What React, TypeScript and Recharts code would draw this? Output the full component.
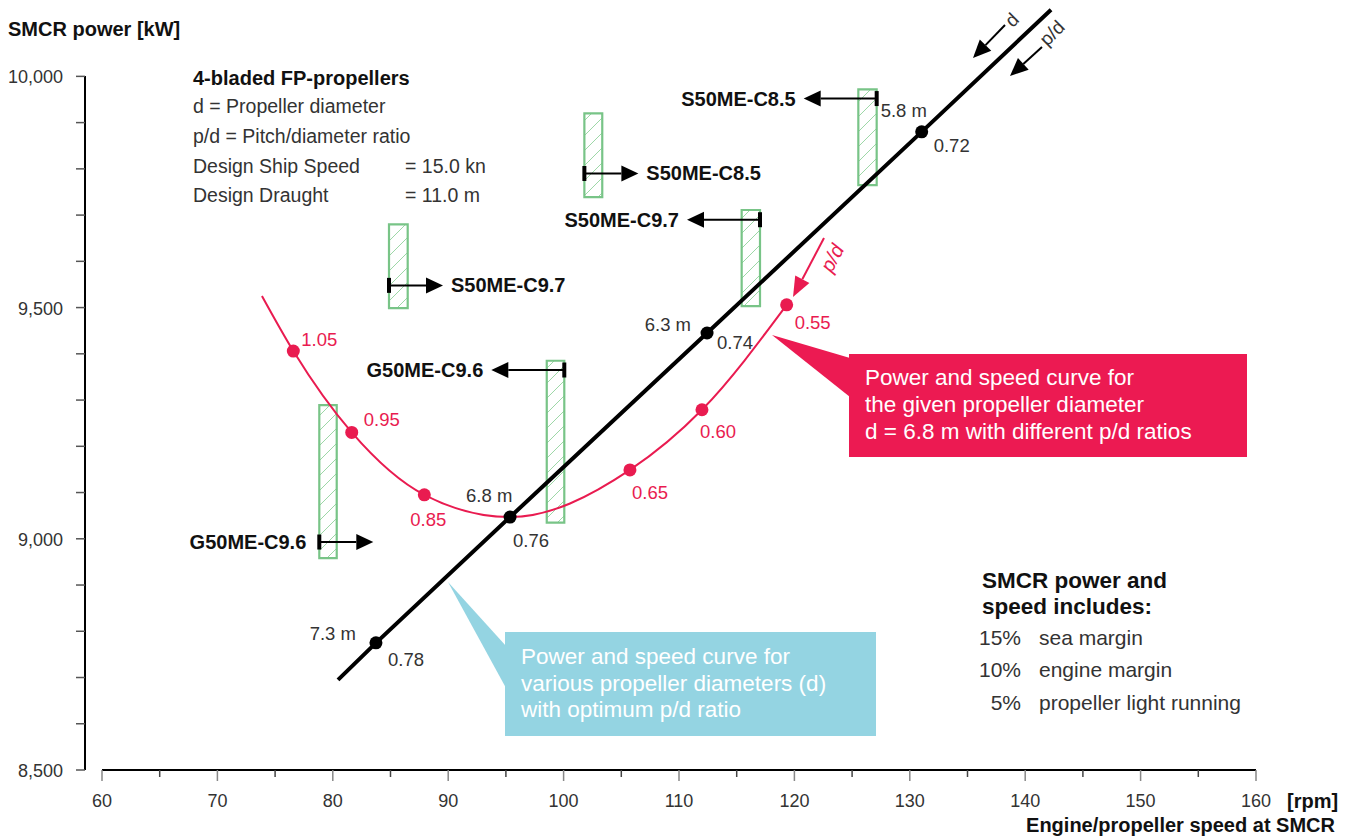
import { ComposedChart, Line, Scatter, XAxis, YAxis, ReferenceArea, ReferenceDot } from "recharts";

const FONT = "'Liberation Sans', Arial, sans-serif";
const RED = "#e91b50";
const GREEN = "#78c487";

const X_TICKS = [60, 65, 70, 75, 80, 85, 90, 95, 100, 105, 110, 115, 120, 125, 130, 135, 140, 145, 150, 155, 160];
const Y_TICKS = [8500, 8600, 8700, 8800, 8900, 9000, 9100, 9200, 9300, 9400, 9500, 9600, 9700, 9800, 9900, 10000];

// curve for various propeller diameters with optimum p/d
const OPT_SPEED = [80.45, 83.74, 95.36, 112.43, 131.03, 142.24];
const OPT_POWER = [8695, 8775, 9047, 9445, 9880, 10144];

const DIAM_SPEED = [83.74, 95.36, 112.43, 131.03];
const DIAM_POWER = [8775, 9047, 9445, 9880];
const DIAM_LABELS = ["7.3 m", "6.8 m", "6.3 m", "5.8 m"];
const DIAM_PD = ["0.78", "0.76", "0.74", "0.72"];

// curve for d = 6.8 m with different p/d
const PD_CURVE_SPEED = [73.86, 76.58, 81.64, 87.93, 95.36, 105.75, 111.99, 119.33];
const PD_CURVE_POWER = [9525, 9406, 9230, 9095, 9047, 9149, 9279, 9506];

const PD_SPEED = [76.58, 81.64, 87.93, 105.75, 111.99, 119.33];
const PD_POWER = [9406, 9230, 9095, 9149, 9279, 9506];
const PD_LABELS = ["1.05", "0.95", "0.85", "0.65", "0.60", "0.55"];

// engine layout areas
const ENGINE_NAMES = ["S50ME-C8.5", "S50ME-C8.5", "S50ME-C9.7", "S50ME-C9.7", "G50ME-C9.6", "G50ME-C9.6"];
const ENGINE_SPEED_MIN = [125.54, 101.8, 115.43, 84.87, 98.54, 78.83];
const ENGINE_SPEED_MAX = [127.13, 103.35, 117.02, 86.49, 100.06, 80.34];
const ENGINE_POWER_MIN = [9765, 9739, 9503, 9499, 9035, 8958];
const ENGINE_POWER_MAX = [9972, 9920, 9711, 9680, 9385, 9289];
const ENGINE_ARROW_POWER = [9952, 9790, 9690, 9548, 9365, 8993];
const ENGINE_ARROW_SIDE = ["left", "right", "left", "right", "left", "right"];

// label placement (px offsets from the dot)
const ENGINE_LABEL_AT_BAR = [false, false, false, false, false, true];
const DIAM_NAME_POS = [
  { dx: -20, dy: -9, anchor: "end" },
  { dx: -44, dy: -22, anchor: "start" },
  { dx: -16, dy: -9, anchor: "end" },
  { dx: -41, dy: -21, anchor: "start" },
];
const DIAM_PD_POS = [
  { dx: 12, dy: 17 },
  { dx: 3, dy: 23 },
  { dx: 10, dy: 9 },
  { dx: 12, dy: 14 },
];
const PD_POS = [
  { dx: 8, dy: -12 },
  { dx: 12, dy: -13 },
  { dx: -14, dy: 25 },
  { dx: 2, dy: 23 },
  { dx: -2, dy: 22 },
  { dx: 8, dy: 18 },
];

const optimumLine = OPT_SPEED.map((rpm, i) => ({ rpm, kw: OPT_POWER[i] }));
const pdCurve = PD_CURVE_SPEED.map((rpm, i) => ({ rpm, kw: PD_CURVE_POWER[i] }));
const diamPoints = DIAM_SPEED.map((rpm, i) => ({ rpm, kw: DIAM_POWER[i], i }));
const pdPoints = PD_SPEED.map((rpm, i) => ({ rpm, kw: PD_POWER[i], i }));

const XTick = (props: any) => {
  const { x, y, payload } = props;
  const v = payload.value;
  const major = v % 10 === 0;
  return (
    <g>
      <line x1={x} y1={y} x2={x} y2={y + (major ? 11 : 7)} stroke={major ? "#888" : "#444"} strokeWidth={1.5} />
      {major && (
        <text x={x} y={y + 31} textAnchor="middle" dominantBaseline="central" fontSize={18} fill="#333" fontFamily={FONT}>
          {v}
        </text>
      )}
    </g>
  );
};

const YTick = (props: any) => {
  const { x, y, payload } = props;
  const v = payload.value;
  return (
    <g>
      <line x1={x - 9} y1={y} x2={x} y2={y} stroke="#555" strokeWidth={1.5} />
      {v % 500 === 0 && (
        <text x={x - 22} y={y + 1} textAnchor="end" dominantBaseline="central" fontSize={18} fill="#333" fontFamily={FONT}>
          {v.toLocaleString("en-US")}
        </text>
      )}
    </g>
  );
};

const BlackDot = (props: any) => {
  const { cx, cy, payload } = props;
  const n = DIAM_NAME_POS[payload.i];
  const p = DIAM_PD_POS[payload.i];
  return (
    <g fontFamily={FONT} fontSize={18.5} fill="#333">
      <circle cx={cx} cy={cy} r={6.5} fill="#000" />
      <text x={cx + n.dx} y={cy + n.dy} textAnchor={n.anchor} dominantBaseline="central">
        {DIAM_LABELS[payload.i]}
      </text>
      <text x={cx + p.dx} y={cy + p.dy} dominantBaseline="central">
        {DIAM_PD[payload.i]}
      </text>
    </g>
  );
};

const RedDot = (props: any) => {
  const { cx, cy, payload } = props;
  const p = PD_POS[payload.i];
  return (
    <g>
      <circle cx={cx} cy={cy} r={6.5} fill={RED} />
      <text x={cx + p.dx} y={cy + p.dy} dominantBaseline="central" fontFamily={FONT} fontSize={18.5} fill={RED}>
        {PD_LABELS[payload.i]}
      </text>
    </g>
  );
};

const EngineMarker = (props: any) => {
  const { cx, cy, index } = props;
  const left = ENGINE_ARROW_SIDE[index] === "left";
  const dir = left ? -1 : 1;
  const tip = cx + dir * (left ? 73 : 54);
  const base = tip - dir * 17;
  const atBar = ENGINE_LABEL_AT_BAR[index];
  // label normally sits past the arrow tip; for one area it sits on the other side of the bar
  const lx = atBar ? cx - 13 : tip + dir * 8;
  const anchor = atBar ? "end" : left ? "end" : "start";
  return (
    <g>
      <line x1={cx} y1={cy - 7.5} x2={cx} y2={cy + 7.5} stroke="#000" strokeWidth={4} />
      <line x1={cx} y1={cy} x2={base} y2={cy} stroke="#000" strokeWidth={2} />
      <polygon points={`${tip},${cy} ${base},${cy - 8} ${base},${cy + 8}`} fill="#000" />
      <text
        x={lx}
        y={cy}
        textAnchor={anchor}
        dominantBaseline="central"
        fontFamily={FONT}
        fontWeight="bold"
        fontSize={20}
        fill="#111"
      >
        {ENGINE_NAMES[index]}
      </text>
    </g>
  );
};

const Arrow = ({ x1, y1, x2, y2, color, len = 18, w = 8 }: any) => {
  const dx = x2 - x1;
  const dy = y2 - y1;
  const d = Math.hypot(dx, dy);
  const ux = dx / d;
  const uy = dy / d;
  const bx = x2 - ux * len;
  const by = y2 - uy * len;
  return (
    <g>
      <line x1={x1} y1={y1} x2={bx} y2={by} stroke={color} strokeWidth={2} />
      <polygon points={`${x2},${y2} ${bx - uy * w},${by + ux * w} ${bx + uy * w},${by - ux * w}`} fill={color} />
    </g>
  );
};

export default function App() {
  return (
    <div style={{ position: "absolute", left: 0, top: 0, width: 1353, height: 838, fontFamily: FONT, background: "#fff" }}>
      <svg width={0} height={0} style={{ position: "absolute" }}>
        <defs>
          <pattern id="hatch" patternUnits="userSpaceOnUse" width={15} height={15}>
            <rect width={15} height={15} fill="#fff" />
            <path d="M-2,2 l4,-4 M0,15 l15,-15 M13,17 l4,-4" stroke="#9dd7a7" strokeWidth={1} />
          </pattern>
        </defs>
      </svg>
      <div style={{ position: "absolute", left: 0, top: 0 }}>
        <ComposedChart width={1353} height={838} margin={{ top: 7, right: 97, bottom: 0, left: 0 }}>
          <XAxis
            type="number"
            dataKey="rpm"
            domain={[60, 160]}
            ticks={X_TICKS}
            interval={0}
            padding={{ left: 17, right: 0 }}
            height={68}
            tickLine={false}
            tickSize={0}
            tickMargin={0}
            axisLine={{ stroke: "#000", strokeWidth: 2, strokeDasharray: "0 17 3000" }}
            tick={(p: any) => <XTick {...p} />}
          />
          <YAxis
            type="number"
            domain={[8500, 10150]}
            ticks={Y_TICKS}
            interval={0}
            width={85}
            tickLine={false}
            tickSize={0}
            tickMargin={0}
            axisLine={{ stroke: "#000", strokeWidth: 2, strokeDasharray: "0 69 3000" }}
            tick={(p: any) => <YTick {...p} />}
          />
          {ENGINE_NAMES.map((name, i) => (
            <ReferenceArea
              key={`area-${i}`}
              x1={ENGINE_SPEED_MIN[i]}
              x2={ENGINE_SPEED_MAX[i]}
              y1={ENGINE_POWER_MIN[i]}
              y2={ENGINE_POWER_MAX[i]}
              fill="url(#hatch)"
              fillOpacity={1}
              stroke={GREEN}
              strokeWidth={2.2}
            />
          ))}
          <Line
            data={pdCurve}
            dataKey="kw"
            type="monotoneX"
            stroke={RED}
            strokeWidth={2}
            dot={false}
            activeDot={false}
            isAnimationActive={false}
          />
          <Line
            data={optimumLine}
            dataKey="kw"
            type="linear"
            stroke="#000"
            strokeWidth={4}
            dot={false}
            activeDot={false}
            isAnimationActive={false}
          />
          <Scatter data={pdPoints} dataKey="kw" shape={(p: any) => <RedDot {...p} />} isAnimationActive={false} />
          <Scatter data={diamPoints} dataKey="kw" shape={(p: any) => <BlackDot {...p} />} isAnimationActive={false} />
          {ENGINE_NAMES.map((name, i) => (
            <ReferenceDot
              key={`eng-${i}`}
              x={ENGINE_ARROW_SIDE[i] === "left" ? ENGINE_SPEED_MAX[i] : ENGINE_SPEED_MIN[i]}
              y={ENGINE_ARROW_POWER[i]}
              r={0}
              shape={(p: any) => <EngineMarker {...p} index={i} />}
            />
          ))}
        </ComposedChart>
      </div>

      <svg width={1353} height={838} style={{ position: "absolute", left: 0, top: 0, pointerEvents: "none" }} fontFamily={FONT}>
        {/* axis titles */}
        <text x={8} y={28.5} dominantBaseline="central" fontWeight="bold" fontSize={20} fill="#111">
          SMCR power [kW]
        </text>
        <text x={1287} y={801} dominantBaseline="central" fontWeight="bold" fontSize={20} fill="#111">
          [rpm]
        </text>
        <text x={1335} y={825} textAnchor="end" dominantBaseline="central" fontWeight="bold" fontSize={20} fill="#111">
          Engine/propeller speed at SMCR
        </text>

        {/* legend top-left */}
        <text x={193} y={78} dominantBaseline="central" fontWeight="bold" fontSize={20} fill="#111">
          4-bladed FP-propellers
        </text>
        <g fontSize={19.5} fill="#333">
          <text x={193} y={106} dominantBaseline="central">d = Propeller diameter</text>
          <text x={193} y={135.5} dominantBaseline="central">p/d = Pitch/diameter ratio</text>
          <text x={193} y={165.5} dominantBaseline="central">Design Ship Speed</text>
          <text x={405} y={165.5} dominantBaseline="central">= 15.0 kn</text>
          <text x={193} y={194.5} dominantBaseline="central">Design Draught</text>
          <text x={405} y={194.5} dominantBaseline="central">= 11.0 m</text>
        </g>

        {/* margins note */}
        <text x={982} y={580} dominantBaseline="central" fontWeight="bold" fontSize={22.5} fill="#111">
          SMCR power and
        </text>
        <text x={982} y={606} dominantBaseline="central" fontWeight="bold" fontSize={22.5} fill="#111">
          speed includes:
        </text>
        <g fontSize={21} fill="#333">
          <text x={1021} y={637} textAnchor="end" dominantBaseline="central">15%</text>
          <text x={1039} y={637} dominantBaseline="central">sea margin</text>
          <text x={1021} y={669} textAnchor="end" dominantBaseline="central">10%</text>
          <text x={1039} y={669} dominantBaseline="central">engine margin</text>
          <text x={1021} y={702} textAnchor="end" dominantBaseline="central">5%</text>
          <text x={1039} y={702} dominantBaseline="central">propeller light running</text>
        </g>

        {/* red callout */}
        <polygon points="772,335 850,358 850,397" fill="#ec1a52" />
        <rect x={849} y={354} width={398} height={103} fill="#ec1a52" />
        <g fontSize={22.5} fill="#fff">
          <text x={865} y={377} dominantBaseline="central">Power and speed curve for</text>
          <text x={865} y={404} dominantBaseline="central">the given propeller diameter</text>
          <text x={865} y={431} dominantBaseline="central">d = 6.8 m with different p/d ratios</text>
        </g>

        {/* cyan callout */}
        <polygon points="448,582 506,646 506,688" fill="#94d4e2" />
        <rect x={505} y={632} width={371} height={104} fill="#94d4e2" />
        <g fontSize={22.5} fill="#fff">
          <text x={521} y={656} dominantBaseline="central">Power and speed curve for</text>
          <text x={521} y={683} dominantBaseline="central">various propeller diameters (d)</text>
          <text x={521} y={709} dominantBaseline="central">with optimum p/d ratio</text>
        </g>

        {/* p/d direction arrow on red curve */}
        <Arrow x1={824} y1={238} x2={793} y2={297} color={RED} len={20} w={8} />
        <text
          x={832}
          y={258}
          textAnchor="middle"
          dominantBaseline="central"
          fontSize={20}
          fontStyle="italic"
          fill={RED}
          transform="rotate(-62 832 258)"
        >
          p/d
        </text>

        {/* direction arrows at top right */}
        <Arrow x1={1005} y1={25} x2={973} y2={58} color="#000" len={18} w={8} />
        <text x={1012} y={20} textAnchor="middle" dominantBaseline="central" fontSize={19} fill="#333" transform="rotate(-45 1012 20)">
          d
        </text>
        <Arrow x1={1042} y1={47} x2={1010} y2={76} color="#000" len={18} w={8} />
        <text x={1052} y={33} textAnchor="middle" dominantBaseline="central" fontSize={19} fill="#333" transform="rotate(-45 1052 33)">
          p/d
        </text>
      </svg>
    </div>
  );
}
